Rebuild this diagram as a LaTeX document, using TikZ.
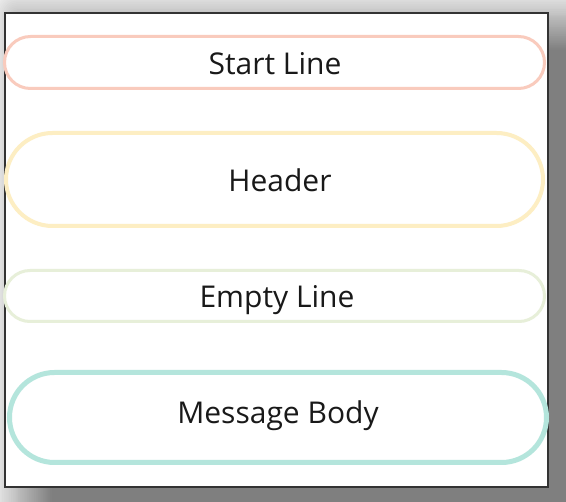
\documentclass[tikz,border=0pt]{standalone}
\usepackage{fontspec}
\setmainfont{Open Sans}
\usetikzlibrary{shapes.misc,shadows.blur}
\definecolor{cStart}{HTML}{F9CBBD}
\definecolor{cHead}{HTML}{FDEEC3}
\definecolor{cEmpty}{HTML}{E7EFD9}
\definecolor{cBody}{HTML}{B4E5DC}
\tikzset{
  pill/.style={rounded rectangle, inner sep=0pt},
  lbl/.style={font=\fontsize{30}{36}\selectfont, text=black!90, inner sep=0pt},
}
\begin{document}
\begin{tikzpicture}[x=1pt,y=-1pt]
\useasboundingbox (0,0) rectangle (566,502);
\fill[white] (0,0) rectangle (566,502);
\node[draw=black!80, line width=1.5pt, fill=white, minimum width=543pt, minimum height=474pt, inner sep=0pt,
  blur shadow={shadow scale=1.15, shadow xshift=46pt, shadow yshift=-33pt, shadow blur radius=30pt, shadow blur steps=20, shadow opacity=50}]
  (frame) at (276.5,250) {};
\node[pill, draw=cStart, line width=3pt, minimum width=540pt, minimum height=52pt] (start) at (274.5,62.5) {};
\node[lbl] at (275,64) (startT) {Start Line};
\node[pill, draw=cHead, line width=4pt, minimum width=537pt, minimum height=93pt] (head) at (274.5,179.5) {};
\node[lbl] at (280,180) (headT) {Header};
\node[pill, draw=cEmpty, line width=3pt, minimum width=540pt, minimum height=51pt] (empty) at (274.5,296) {};
\node[lbl] at (277,300) (emptyT) {Empty Line};
\node[pill, draw=cBody, line width=5pt, minimum width=537pt, minimum height=90pt] (body) at (278,417.5) {};
\node[lbl] at (278,416) (bodyT) {Message Body};
\end{tikzpicture}
\end{document}
